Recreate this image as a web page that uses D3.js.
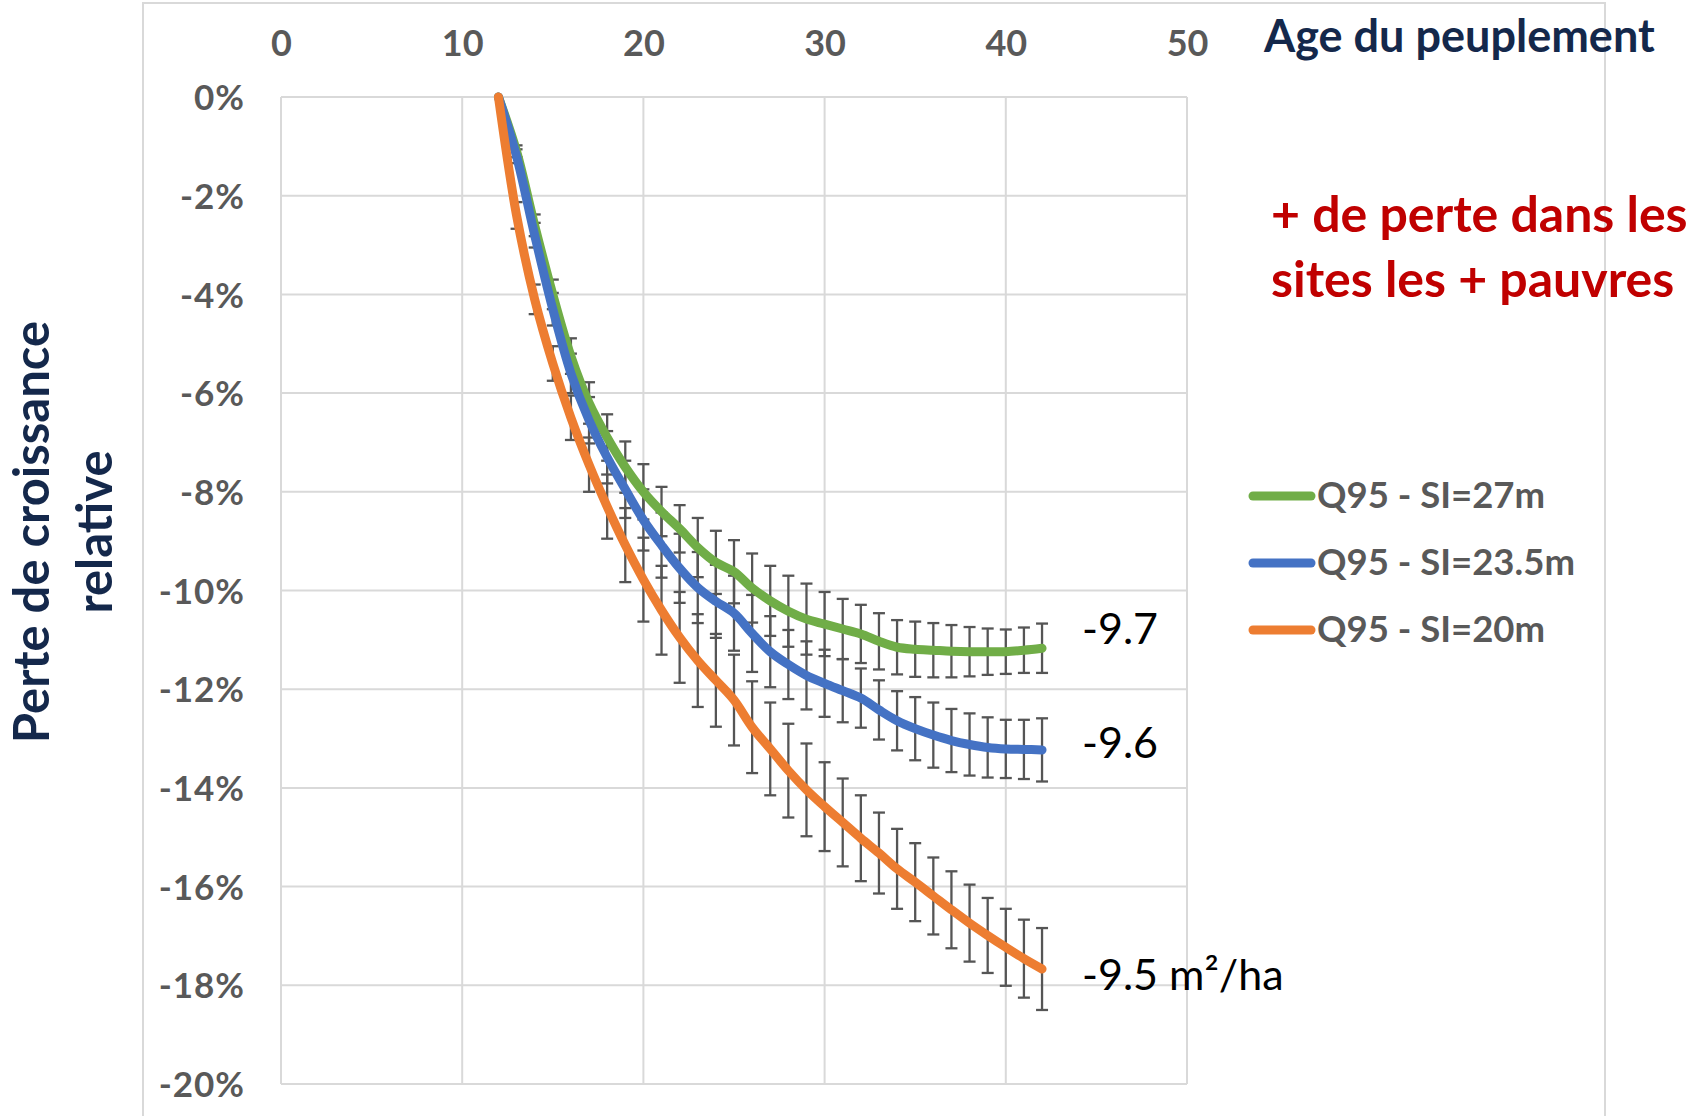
<!DOCTYPE html>
<html>
<head>
<meta charset="utf-8">
<script src="https://cdn.jsdelivr.net/npm/d3@7"></script>
<style>
  html, body { margin: 0; padding: 0; background: #ffffff; }
  svg { display: block; }
</style>
</head>
<body>
<svg id="chart" width="1691" height="1116"></svg>
<script>
// ---------- DATA ----------
const ages = [12,13,14,15,16,17,18,19,20,21,22,23,24,25,26,27,28,29,30,31,32,33,34,35,36,37,38,39,40,41,42];

const seriesNames = ["Q95 - SI=27m", "Q95 - SI=23.5m", "Q95 - SI=20m"];

const si27 = [0,-1.1,-2.6,-4.0,-5.25,-6.2,-6.9,-7.5,-8.0,-8.4,-8.75,-9.13,-9.43,-9.62,-9.95,-10.21,-10.42,-10.58,-10.68,-10.78,-10.88,-11.03,-11.15,-11.19,-11.21,-11.23,-11.24,-11.24,-11.24,-11.21,-11.17];
const si235 = [0,-1.2,-2.8,-4.3,-5.6,-6.55,-7.3,-7.95,-8.57,-9.08,-9.55,-9.94,-10.22,-10.46,-10.87,-11.24,-11.5,-11.72,-11.88,-12.03,-12.18,-12.42,-12.64,-12.8,-12.93,-13.04,-13.12,-13.18,-13.21,-13.22,-13.23];
const si20 = [0,-2.4,-4.1,-5.4,-6.5,-7.45,-8.3,-9.08,-9.78,-10.4,-10.95,-11.42,-11.82,-12.22,-12.77,-13.21,-13.65,-14.04,-14.38,-14.7,-15.02,-15.32,-15.64,-15.91,-16.19,-16.47,-16.74,-16.99,-17.23,-17.46,-17.67];

const err27 = [0,0.12,0.22,0.3,0.36,0.42,0.47,0.52,0.56,0.5,0.48,0.6,0.64,0.64,0.7,0.71,0.72,0.72,0.65,0.61,0.59,0.57,0.55,0.56,0.55,0.53,0.5,0.47,0.45,0.46,0.5];
const err235 = [0,0.14,0.25,0.33,0.4,0.47,0.53,0.58,0.62,0.66,0.7,0.72,0.74,0.76,0.78,0.72,0.7,0.69,0.68,0.64,0.6,0.6,0.6,0.64,0.66,0.64,0.63,0.61,0.59,0.6,0.64];
const err20 = [0,0.27,0.3,0.35,0.45,0.55,0.65,0.75,0.85,0.9,0.92,0.94,0.94,0.92,0.93,0.94,0.95,0.94,0.9,0.89,0.87,0.82,0.81,0.79,0.78,0.78,0.78,0.76,0.78,0.79,0.83];

const xTickValues = [0,10,20,30,40,50];
const yTickValues = [0,-2,-4,-6,-8,-10,-12,-14,-16,-18,-20];

const endLabels = ["-9.7", "-9.6", "-9.5 m²/ha"];
const xTitle = "Age du peuplement";
const yTitleLines = ["Perte de croissance", "relative"];
const noteLines = ["+ de perte dans les", "sites les + pauvres"];

// ---------- STYLE ----------
const colors = ["#70AD47", "#4472C4", "#ED7D31"];
const gridColor = "#d9d9d9";
const tickColor = "#595959";
const navy = "#14284B";
const fontB = "Lato, 'Open Sans', sans-serif";

const svg = d3.select("#chart");

// outer frame
svg.append("rect")
  .attr("x", 143).attr("y", 3)
  .attr("width", 1605 - 143).attr("height", 1200)
  .attr("fill", "none").attr("stroke", gridColor).attr("stroke-width", 2);

const x = d3.scaleLinear().domain([0, 50]).range([281, 1187]);
const y = d3.scaleLinear().domain([0, -20]).range([97, 1084]);

// gridlines
const grid = svg.append("g");
grid.selectAll("line.h").data(yTickValues).join("line")
  .attr("x1", x(0)).attr("x2", x(50))
  .attr("y1", d => y(d)).attr("y2", d => y(d))
  .attr("stroke", gridColor).attr("stroke-width", 2);
grid.selectAll("line.v").data(xTickValues).join("line")
  .attr("y1", y(0)).attr("y2", y(-20))
  .attr("x1", d => x(d)).attr("x2", d => x(d))
  .attr("stroke", gridColor).attr("stroke-width", 2);

// x axis (top) labels via d3 axis
const xAxis = d3.axisTop(x).tickValues(xTickValues).tickSize(0).tickPadding(0).tickFormat(d3.format("d"));
const gx = svg.append("g").attr("transform", "translate(0,56)").call(xAxis);
gx.select(".domain").remove();
gx.selectAll("text")
  .attr("fill", tickColor).attr("font-family", fontB).attr("font-weight", 700)
  .attr("font-size", 36).attr("dy", 0);

// y axis labels
const yAxis = d3.axisLeft(y).tickValues(yTickValues).tickSize(0).tickPadding(0).tickFormat(d => d + "%");
const gy = svg.append("g").attr("transform", "translate(245,0)").call(yAxis);
gy.select(".domain").remove();
gy.selectAll("text")
  .attr("fill", tickColor).attr("font-family", fontB).attr("font-weight", 700)
  .attr("font-size", 35).attr("letter-spacing", 1).attr("dy", "0.36em");

// series
const series = [
  { name: seriesNames[0], values: si27, err: err27, color: colors[0] },
  { name: seriesNames[1], values: si235, err: err235, color: colors[1] },
  { name: seriesNames[2], values: si20, err: err20, color: colors[2] }
];

// error bars
const eb = svg.append("g").attr("stroke", "#555555").attr("stroke-width", 2.3).attr("fill", "none");
series.forEach(s => {
  const pts = ages.map((a, i) => ({ a, v: s.values[i], e: s.err[i] })).filter(p => p.e > 0);
  const g = eb.append("g");
  g.selectAll("line.bar").data(pts).join("line")
    .attr("x1", p => x(p.a)).attr("x2", p => x(p.a))
    .attr("y1", p => y(p.v + p.e)).attr("y2", p => y(p.v - p.e));
  g.selectAll("line.capt").data(pts).join("line")
    .attr("x1", p => x(p.a) - 6).attr("x2", p => x(p.a) + 6)
    .attr("y1", p => y(p.v + p.e)).attr("y2", p => y(p.v + p.e));
  g.selectAll("line.capb").data(pts).join("line")
    .attr("x1", p => x(p.a) - 6).attr("x2", p => x(p.a) + 6)
    .attr("y1", p => y(p.v - p.e)).attr("y2", p => y(p.v - p.e));
});

// lines
const line = d3.line().x(d => x(d[0])).y(d => y(d[1])).curve(d3.curveCatmullRom.alpha(0.5));
series.forEach(s => {
  svg.append("path")
    .datum(ages.map((a, i) => [a, s.values[i]]))
    .attr("d", line)
    .attr("fill", "none").attr("stroke", s.color).attr("stroke-width", 9)
    .attr("stroke-linecap", "round").attr("stroke-linejoin", "round");
});

// end labels
const endY = [644, 758, 990];
svg.append("g").selectAll("text").data(endLabels).join("text")
  .attr("x", 1082).attr("y", (d, i) => endY[i])
  .attr("font-family", fontB).attr("font-size", 43).attr("fill", "#000")
  .text(d => d);

// legend
const lg = svg.append("g");
series.forEach((s, i) => {
  const ly = 496 + i * 67;
  lg.append("line").attr("x1", 1253).attr("x2", 1311).attr("y1", ly).attr("y2", ly)
    .attr("stroke", s.color).attr("stroke-width", 9).attr("stroke-linecap", "round");
  lg.append("text").attr("x", 1317).attr("y", ly + 12)
    .attr("font-family", fontB).attr("font-weight", 700).attr("font-size", 36.5)
    .attr("fill", tickColor).text(s.name);
});

// x title
svg.append("text").attr("x", 1264).attr("y", 52)
  .attr("font-family", fontB).attr("font-weight", 700).attr("font-size", 45)
  .attr("fill", navy).text(xTitle);

// note
svg.append("g").selectAll("text").data(noteLines).join("text")
  .attr("x", 1271).attr("y", (d, i) => 232 + i * 65)
  .attr("font-family", fontB).attr("font-weight", 700).attr("font-size", 50)
  .attr("fill", "#C00000").text(d => d);

// y title
const yt = svg.append("text")
  .attr("transform", "translate(0,532) rotate(-90)")
  .attr("font-family", fontB).attr("font-weight", 700).attr("font-size", 49)
  .attr("fill", navy).attr("text-anchor", "middle");
yt.selectAll("tspan").data(yTitleLines).join("tspan")
  .attr("x", 0).attr("y", (d, i) => 49 + i * 63)
  .text(d => d);
</script>
</body>
</html>
